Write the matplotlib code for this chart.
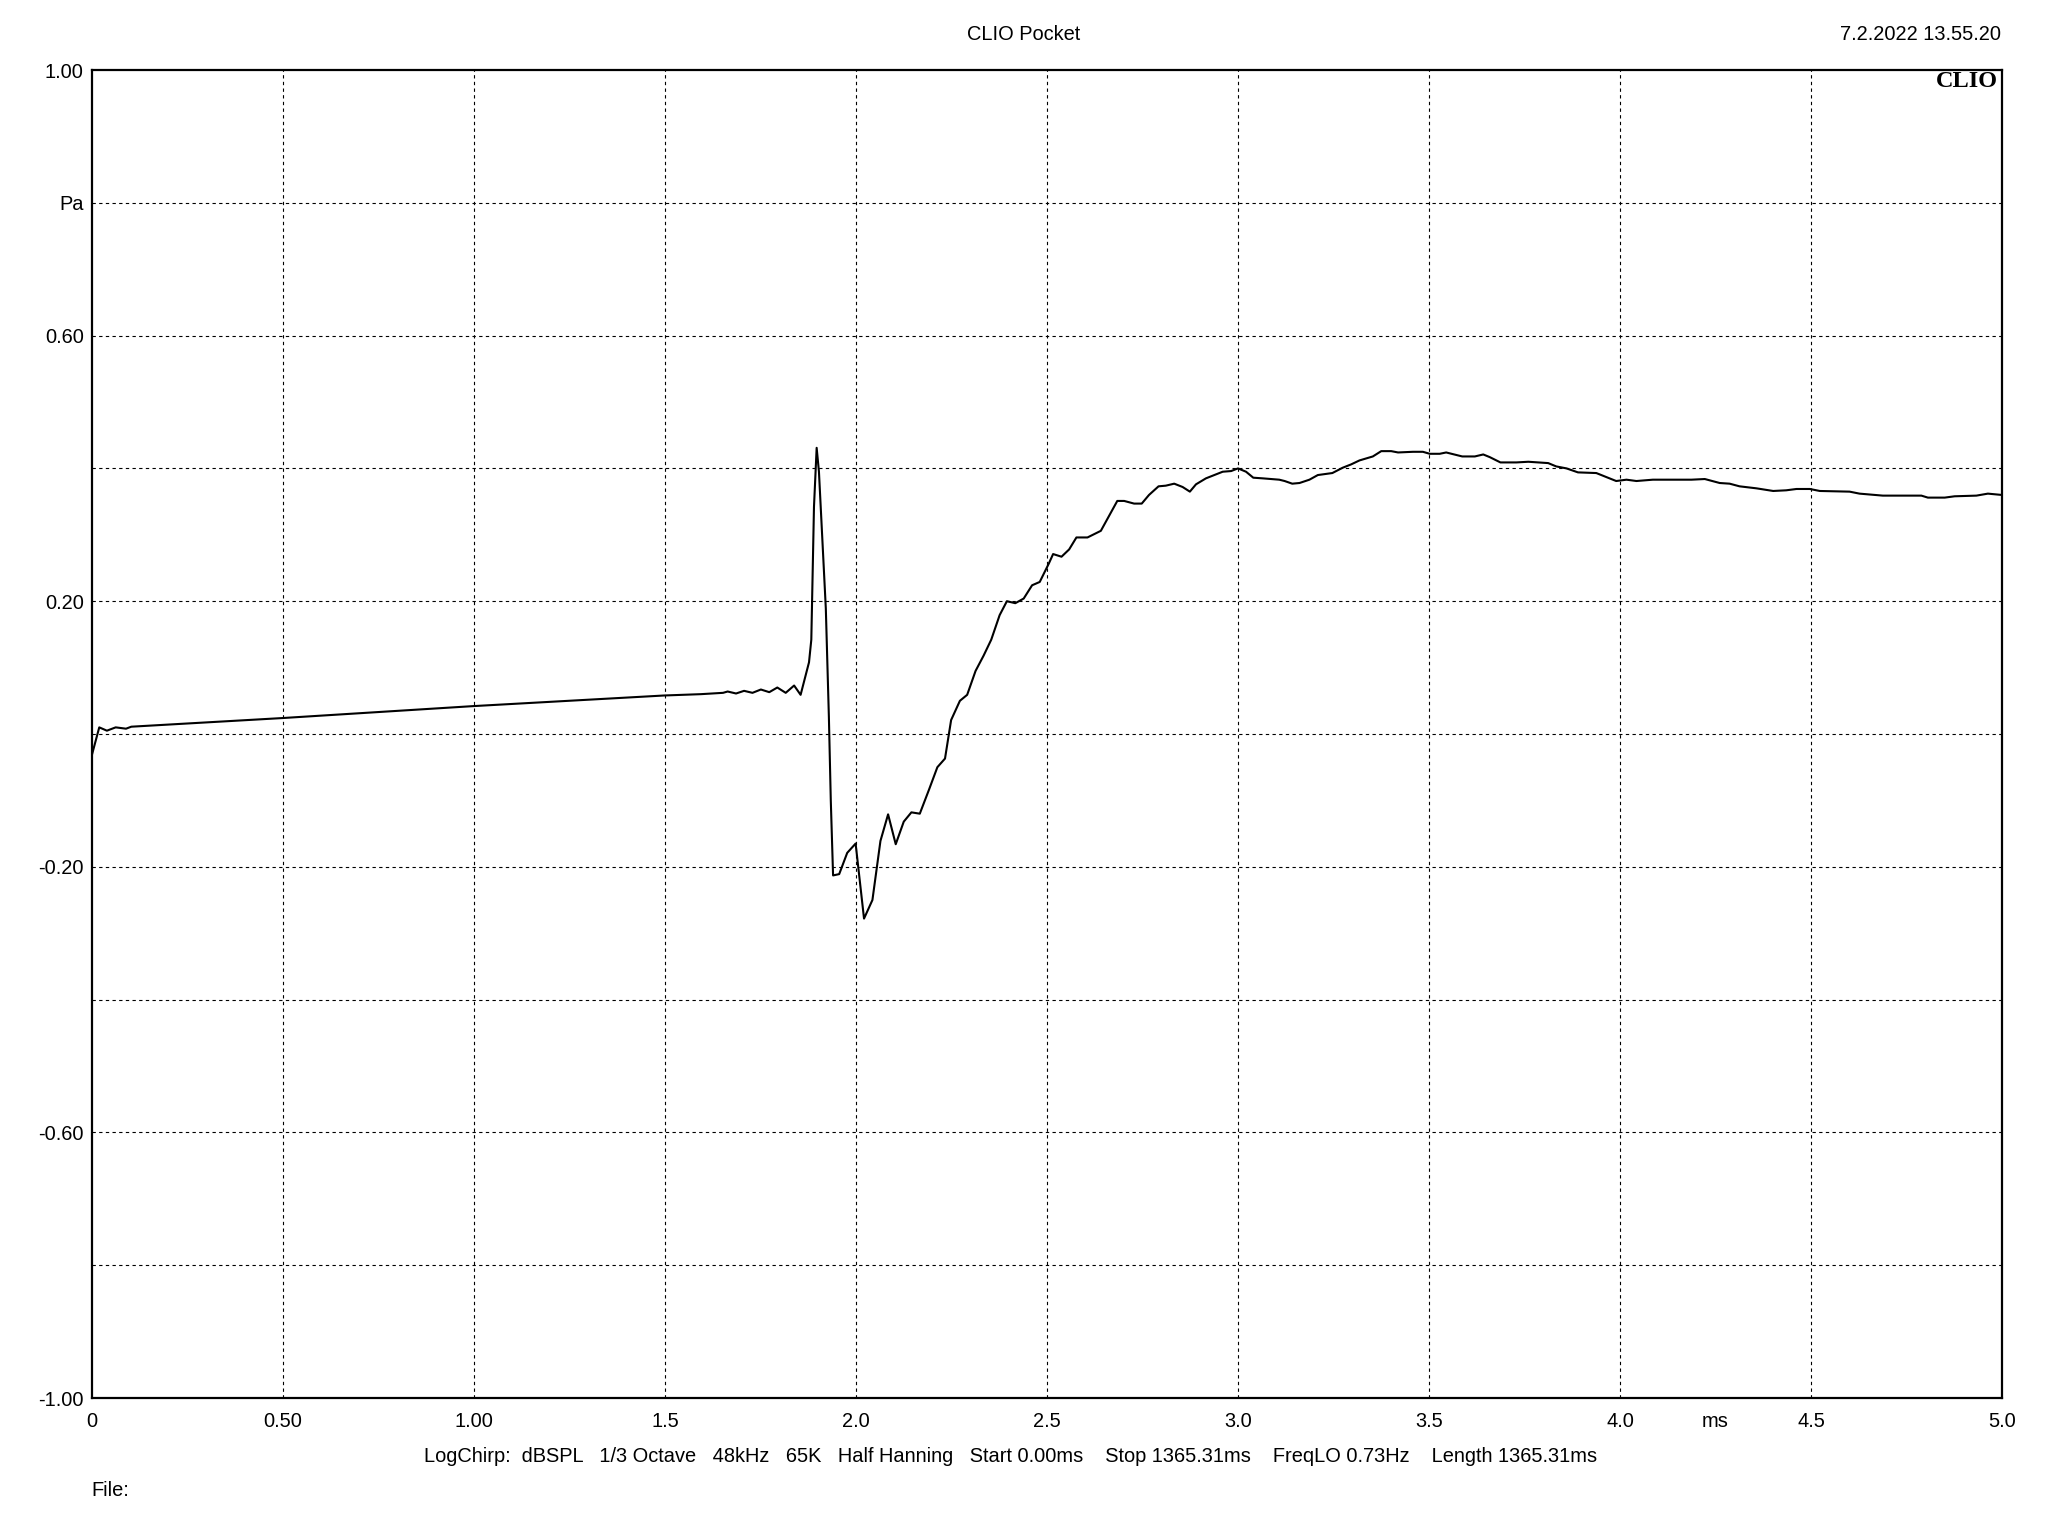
import matplotlib
matplotlib.use('Agg')
import matplotlib.pyplot as plt

plt.rcParams['font.family'] = ['Liberation Sans', 'DejaVu Sans']

# impulse response (time in ms, pressure in Pa)
time_ms = [0.000, 0.019, 0.039, 0.062, 0.089, 0.103, 0.498, 0.998, 1.498,
           1.594, 1.652, 1.664, 1.686, 1.707, 1.729, 1.751, 1.773, 1.794,
           1.816, 1.838, 1.855, 1.877, 1.883, 1.890, 1.897, 1.903, 1.921,
           1.929, 1.934, 1.940, 1.956, 1.977, 1.999, 2.021, 2.043, 2.064,
           2.084, 2.104, 2.125, 2.145, 2.167, 2.191, 2.213, 2.233, 2.249,
           2.272, 2.291, 2.313, 2.334, 2.354, 2.376, 2.395, 2.417, 2.439,
           2.461, 2.481, 2.505, 2.516, 2.538, 2.558, 2.577, 2.606, 2.641,
           2.663, 2.684, 2.702, 2.728, 2.748, 2.767, 2.792, 2.811, 2.833,
           2.855, 2.874, 2.890, 2.916, 2.942, 2.960, 2.982, 3.000, 3.021,
           3.040, 3.065, 3.108, 3.122, 3.142, 3.161, 3.187, 3.209, 3.247,
           3.274, 3.296, 3.318, 3.353, 3.375, 3.401, 3.419, 3.458, 3.484,
           3.502, 3.528, 3.545, 3.587, 3.620, 3.642, 3.659, 3.687, 3.729,
           3.760, 3.812, 3.833, 3.860, 3.890, 3.938, 3.973, 3.990, 4.017,
           4.043, 4.086, 4.187, 4.222, 4.261, 4.287, 4.313, 4.357, 4.401,
           4.435, 4.462, 4.497, 4.523, 4.601, 4.627, 4.688, 4.789, 4.806,
           4.850, 4.876, 4.933, 4.963, 5.000]
pressure_pa = [-0.031, 0.010, 0.005, 0.010, 0.008, 0.011, 0.024, 0.042, 0.058,
               0.060, 0.062, 0.064, 0.061, 0.065, 0.062, 0.067, 0.063, 0.070,
               0.062, 0.073, 0.059, 0.108, 0.142, 0.342, 0.431, 0.395, 0.189,
               0.026, -0.100, -0.213, -0.211, -0.179, -0.165, -0.278, -0.250, -0.161,
               -0.121, -0.166, -0.132, -0.118, -0.120, -0.084, -0.050, -0.037, 0.021,
               0.050, 0.059, 0.095, 0.118, 0.142, 0.179, 0.200, 0.197, 0.204,
               0.224, 0.229, 0.257, 0.271, 0.267, 0.278, 0.296, 0.296, 0.306,
               0.329, 0.351, 0.351, 0.347, 0.347, 0.360, 0.373, 0.374, 0.377,
               0.372, 0.365, 0.376, 0.385, 0.391, 0.395, 0.396, 0.400, 0.395,
               0.386, 0.385, 0.383, 0.381, 0.377, 0.378, 0.383, 0.390, 0.393,
               0.401, 0.406, 0.412, 0.418, 0.426, 0.426, 0.424, 0.425, 0.425,
               0.422, 0.422, 0.424, 0.418, 0.418, 0.421, 0.417, 0.409, 0.409,
               0.410, 0.408, 0.403, 0.400, 0.394, 0.393, 0.385, 0.381, 0.383,
               0.381, 0.383, 0.383, 0.384, 0.378, 0.377, 0.373, 0.370, 0.366,
               0.367, 0.369, 0.369, 0.366, 0.365, 0.362, 0.359, 0.359, 0.356,
               0.356, 0.358, 0.359, 0.362, 0.360]

x_ticks = [0, 0.5, 1.0, 1.5, 2.0, 2.5, 3.0, 3.5, 4.0, 4.25, 4.5, 5.0]
x_labels = ['0', '0.50', '1.00', '1.5', '2.0', '2.5', '3.0', '3.5', '4.0', 'ms', '4.5', '5.0']
y_ticks = [-1.0, -0.8, -0.6, -0.4, -0.2, 0.0, 0.2, 0.4, 0.6, 0.8, 1.0]
y_labels = ['-1.00', '', '-0.60', '', '-0.20', '', '0.20', '', '0.60', 'Pa', '1.00']

fs = 14.4

fig = plt.figure(figsize=(20.48, 15.36), dpi=100)
ax = fig.add_axes([92 / 2048, 138 / 1536, 1910 / 2048, 1328 / 1536])

ax.plot(time_ms, pressure_pa, color='black', lw=1.5)

ax.set_xlim(0, 5)
ax.set_ylim(-1, 1)

# dotted grid, ms/Pa labels sit inside the tick rows
for gx in [0.5, 1.0, 1.5, 2.0, 2.5, 3.0, 3.5, 4.0, 4.5]:
    ax.axvline(gx, color='black', lw=0.8, ls=(0, (3, 3)))
for gy in [-0.8, -0.6, -0.4, -0.2, 0.0, 0.2, 0.4, 0.6, 0.8]:
    ax.axhline(gy, color='black', lw=0.8, ls=(0, (3, 3)))

ax.set_xticks(x_ticks)
ax.set_xticklabels(x_labels)
ax.set_yticks(y_ticks)
ax.set_yticklabels(y_labels)
ax.tick_params(axis='both', length=0, labelsize=fs)
ax.tick_params(axis='x', pad=10)
ax.tick_params(axis='y', pad=6)

for s in ax.spines.values():
    s.set_linewidth(1.6)

ax.text(0.998, 0.9915, 'CLIO', transform=ax.transAxes, ha='right', va='center',
        fontsize=17.5, fontweight='bold', family='Liberation Serif')

fig.text(0.5, 1 - 35 / 1536, 'CLIO Pocket', ha='center', va='center', fontsize=fs)
fig.text(2001 / 2048, 1 - 35 / 1536, '7.2.2022 13.55.20', ha='right', va='center', fontsize=fs)
fig.text(1011 / 2048, 1 - 1457 / 1536,
         'LogChirp:  dBSPL   1/3 Octave   48kHz   65K   Half Hanning   Start 0.00ms    '
         'Stop 1365.31ms    FreqLO 0.73Hz    Length 1365.31ms',
         ha='center', va='center', fontsize=fs)
fig.text(91 / 2048, 1 - 1491 / 1536, 'File:', ha='left', va='center', fontsize=fs)

plt.savefig('out.png', dpi=100)
